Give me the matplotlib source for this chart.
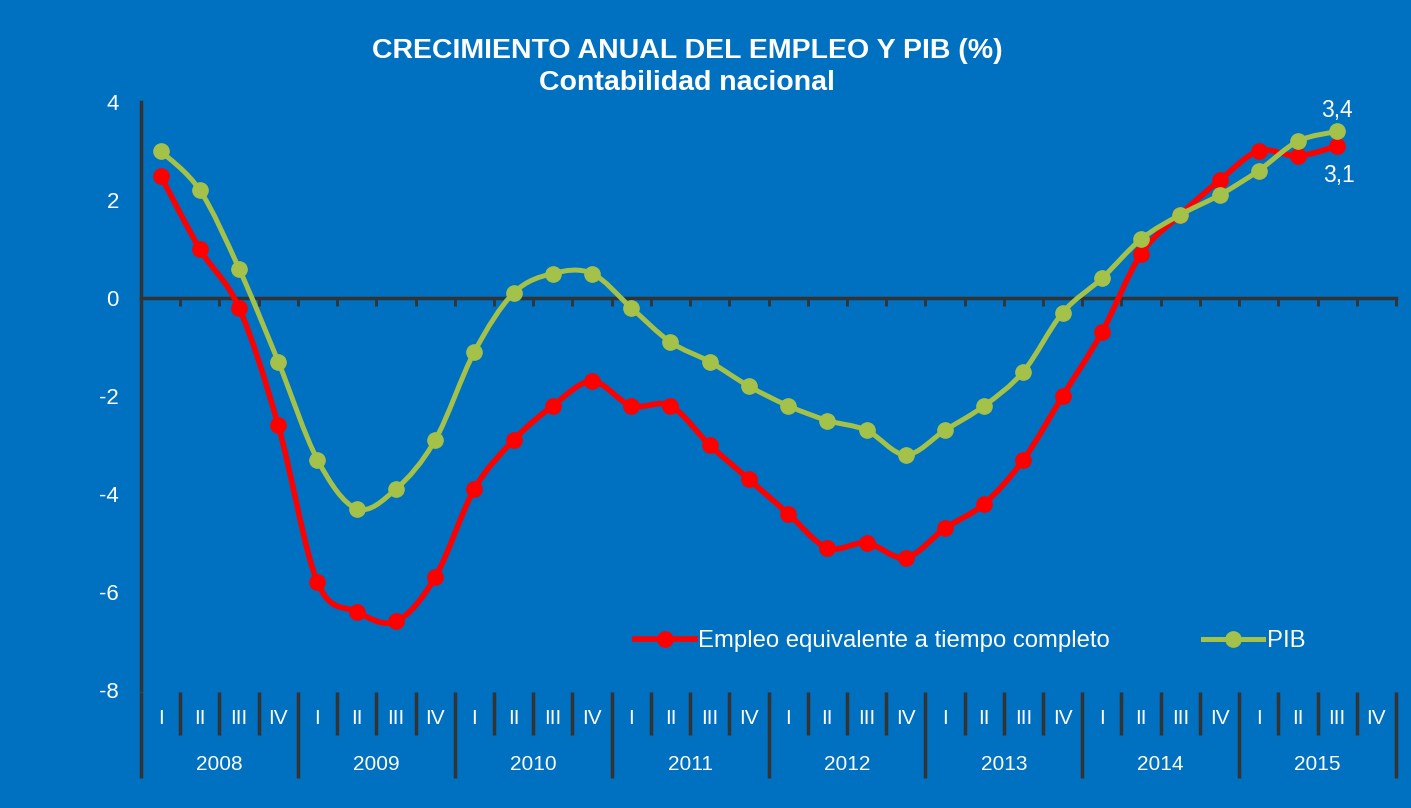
import matplotlib

matplotlib.use("Agg")
import matplotlib.pyplot as plt
from matplotlib.lines import Line2D
from matplotlib.patches import PathPatch
from matplotlib.path import Path

# ---------- datos ----------
YEARS = ["2008", "2009", "2010", "2011", "2012", "2013", "2014", "2015"]
QUARTERS = ["I", "II", "III", "IV"]

EMPLEO = [2.5, 1.0, -0.2, -2.6, -5.8, -6.4, -6.6, -5.7,
          -3.9, -2.9, -2.2, -1.7, -2.2, -2.2, -3.0, -3.7,
          -4.4, -5.1, -5.0, -5.3, -4.7, -4.2, -3.3, -2.0,
          -0.7, 0.9, 1.7, 2.4, 3.0, 2.9, 3.1]
PIB = [3.0, 2.2, 0.6, -1.3, -3.3, -4.3, -3.9, -2.9,
       -1.1, 0.1, 0.5, 0.5, -0.2, -0.9, -1.3, -1.8,
       -2.2, -2.5, -2.7, -3.2, -2.7, -2.2, -1.5, -0.3,
       0.4, 1.2, 1.7, 2.1, 2.6, 3.2, 3.4]

# ---------- estilo ----------
BG = "#0070C0"
AXIS_COLOR = "#333333"
RED = "#FF0000"
GREEN = "#A4C14A"
FONT = ["Liberation Sans", "DejaVu Sans"]

plt.rcParams["font.family"] = FONT

W, H = 1411, 808
fig = plt.figure(figsize=(W / 100, H / 100), dpi=100, facecolor=BG)

# area del grafico en pixeles
x0, x1, y_top, y_bot = 141, 1396, 102, 690
ax = fig.add_axes([x0 / W, 1 - y_bot / H, (x1 - x0) / W, (y_bot - y_top) / H])
ax.set_facecolor(BG)

n_cat = len(YEARS) * len(QUARTERS)
ax.set_xlim(-0.5, n_cat - 0.5)
ax.set_ylim(-8, 4)


def smooth_path(xs, ys):
    """Curva suavizada tipo Excel (Bezier cubica, Catmull-Rom)."""
    pts = list(zip(xs, ys))
    verts = [pts[0]]
    codes = [Path.MOVETO]
    n = len(pts)
    for i in range(n - 1):
        p0 = pts[i - 1] if i > 0 else pts[i]
        p1 = pts[i]
        p2 = pts[i + 1]
        p3 = pts[i + 2] if i + 2 < n else pts[i + 1]
        c1 = (p1[0] + (p2[0] - p0[0]) / 6, p1[1] + (p2[1] - p0[1]) / 6)
        c2 = (p2[0] - (p3[0] - p1[0]) / 6, p2[1] - (p3[1] - p1[1]) / 6)
        verts += [c1, c2, p2]
        codes += [Path.CURVE4] * 3
    return Path(verts, codes)


xs = list(range(len(EMPLEO)))
for vals, color, lw, z in [(EMPLEO, RED, 4.0, 3), (PIB, GREEN, 3.6, 4)]:
    ax.add_patch(PathPatch(smooth_path(xs, vals), fill=False, edgecolor=color,
                           linewidth=lw, capstyle="round", joinstyle="round",
                           zorder=z))
    ax.plot(xs, vals, linestyle="none", marker="o", markersize=11,
            color=color, zorder=z + 0.5)

# eje horizontal en cero con marcas entre trimestres
for s in ["top", "right"]:
    ax.spines[s].set_visible(False)
ax.spines["bottom"].set_position(("data", 0))
ax.spines["bottom"].set_color(AXIS_COLOR)
ax.spines["bottom"].set_linewidth(2.5)
ax.spines["left"].set_color(AXIS_COLOR)
ax.spines["left"].set_linewidth(2.5)
ax.set_xticks([k - 0.5 for k in range(n_cat + 1)])
ax.set_xticklabels([])
ax.tick_params(axis="x", direction="out", length=6, width=2, color=AXIS_COLOR)

ax.set_yticks(range(-8, 5, 2))
ax.set_yticklabels([str(v) for v in range(-8, 5, 2)])
ax.tick_params(axis="y", length=0, pad=16, labelsize=16, labelcolor="white")

# etiquetas de categorias (trimestre / anio) bajo el grafico
trans = ax.get_xaxis_transform()
for k in range(n_cat + 1):
    xk = k - 0.5
    y_end = -0.150 if k % 4 == 0 else -0.077
    ax.plot([xk, xk], [-0.003, y_end], color=AXIS_COLOR, linewidth=2.5,
            transform=trans, clip_on=False, solid_capstyle="butt")
for k in range(n_cat):
    ax.text(k, -0.049, QUARTERS[k % 4], transform=trans, ha="center",
            va="center", color="white", fontsize=15)
for j, yr in enumerate(YEARS):
    ax.text(4 * j + 1.5, -0.126, yr, transform=trans, ha="center",
            va="center", color="white", fontsize=15)

# ultimos valores
ax.annotate(f"{PIB[-1]:.1f}".replace(".", ","), (xs[-1], PIB[-1]),
            xytext=(0, 21), textcoords="offset pixels", ha="center",
            va="center", color="white", fontsize=16.5)
ax.annotate(f"{EMPLEO[-1]:.1f}".replace(".", ","), (xs[-1], EMPLEO[-1]),
            xytext=(2, -29), textcoords="offset pixels", ha="center",
            va="center", color="white", fontsize=16.5)

# titulo
fig.text(687 / W, 1 - 51 / H,
         "CRECIMIENTO ANUAL DEL EMPLEO Y PIB (%)", ha="center", va="center",
         color="white", fontsize=20.5, fontweight="bold")
fig.text(687 / W, 1 - 83 / H, "Contabilidad nacional",
         ha="center", va="center", color="white", fontsize=20.5,
         fontweight="bold")

# leyenda
handles = [
    Line2D([], [], color=RED, linewidth=4.0, marker="o", markersize=11),
    Line2D([], [], color=GREEN, linewidth=3.6, marker="o", markersize=11),
]
leg = ax.legend(handles, ["Empleo equivalente a tiempo completo", "PIB"],
                loc="center", bbox_to_anchor=(0.6606, 0.0833), ncol=2,
                frameon=False, fontsize=17.2, handlelength=2.5,
                handletextpad=0.15, columnspacing=3.9)
for t in leg.get_texts():
    t.set_color("white")

fig.savefig("out.png", dpi=100, facecolor=BG)
